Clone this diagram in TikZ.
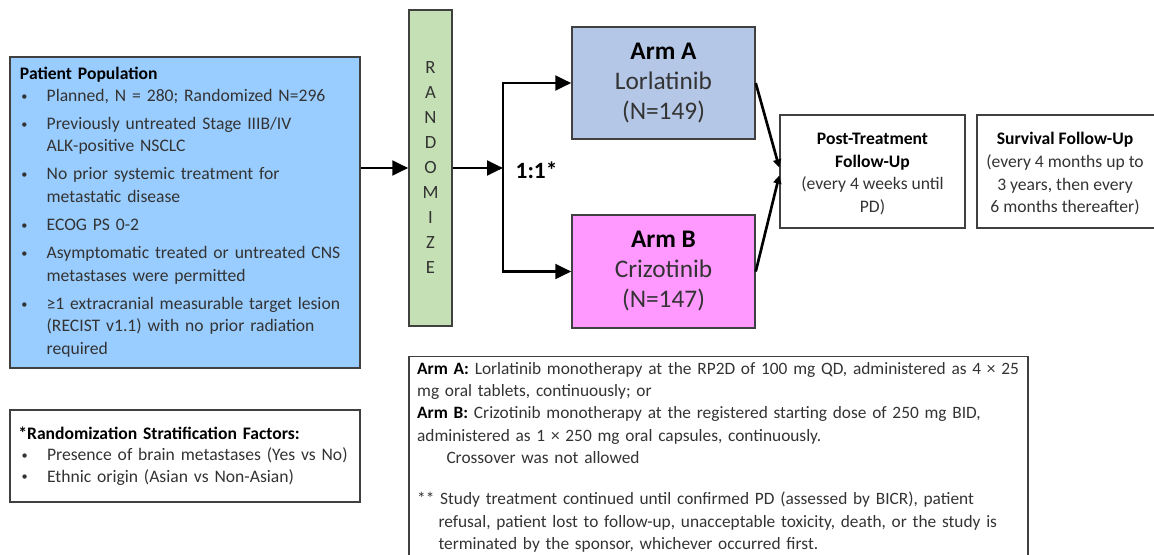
\documentclass[tikz,border=0pt]{standalone}
\usepackage{fontspec}
\setmainfont{Carlito}
\usetikzlibrary{positioning,arrows.meta,calc}
\definecolor{popblue}{HTML}{99CCFF}
\definecolor{randgreen}{HTML}{C5E0B4}
\definecolor{armablue}{HTML}{B4C7E7}
\definecolor{armbpink}{HTML}{FF99FF}
\definecolor{boxline}{HTML}{404040}
\definecolor{bodytext}{HTML}{333333}

\tikzset{
    box/.style={rectangle, draw=boxline, line width=1.1pt, inner sep=0pt, text=bodytext},
    arr/.style={-{Triangle[length=12pt, width=11pt]}, line width=2.2pt},
    thinarr/.style={-{Triangle[length=6pt, width=6pt]}, line width=2pt}
}
\newcommand{\bul}{\makebox[20pt][l]{\hspace*{1pt}\raisebox{0.15ex}{\scalebox{0.7}{\textbullet}}}}
\newcommand{\cont}{\hspace*{20pt}}

\begin{document}
\begin{tikzpicture}[x=0.75pt, y=-0.75pt,
    every node/.style={font=\fontsize{13.2pt}{17pt}\selectfont}
]
    \useasboundingbox (0,0) rectangle (1154,554);
    \clip (0,0) rectangle (1154,554);

    % Patient population on the left
    \node[box, fill=popblue, minimum width=262.5pt, minimum height=233.25pt,
          text width=247.5pt, align=left] (pop) at (185, 212.5) {
        \textcolor{black}{\textbf{Patient Population}}\\[-1pt]
        \bul Planned, N = 280; Randomized N=296\\[4pt]
        \bul Previously untreated Stage IIIB/IV\\
        \cont ALK-positive NSCLC\\[4pt]
        \bul No prior systemic treatment for\\
        \cont metastatic disease\\[4pt]
        \bul ECOG PS 0-2\\[4pt]
        \bul Asymptomatic treated or untreated CNS\\
        \cont metastases were permitted\\[4pt]
        \bul ≥1 extracranial measurable target lesion\\
        \cont (RECIST v1.1) with no prior radiation\\
        \cont required
    };

    % Randomize bar
    \node[box, fill=randgreen, minimum width=32.25pt, minimum height=237pt, align=center,
          font=\fontsize{14pt}{18.75pt}\selectfont] (rand) at (430.5, 168)
        {R\\A\\N\\D\\O\\M\\I\\Z\\E};

    % Treatment arms
    \node[box, fill=armablue, minimum width=137.25pt, minimum height=84pt, align=center,
          font=\fontsize{19pt}{22.5pt}\selectfont] (armA) at (663.5, 83)
        {\textcolor{black}{\textbf{Arm A}}\\Lorlatinib\\(N=149)};
    \node[box, fill=armbpink, minimum width=137.25pt, minimum height=84.75pt, align=center,
          font=\fontsize{19pt}{22.5pt}\selectfont] (armB) at (663.5, 271.5)
        {\textcolor{black}{\textbf{Arm B}}\\Crizotinib\\(N=147)};

    % Follow-up boxes
    \node[box, minimum width=138.75pt, minimum height=84.75pt] (post) at (872.5, 171.5) {};
    \node[align=center, text=bodytext] (posttext) at (872.5, 174)
        {\textcolor{black}{\textbf{Post-Treatment}}\\\textcolor{black}{\textbf{Follow-Up}}\\(every 4 weeks until\\PD)};
    \node[box, minimum width=137.25pt, minimum height=84.75pt] (surv) at (1068.5, 171.5) {};
    \node[align=center, text=bodytext] (survtext) at (1065, 174)
        {\textcolor{black}{\textbf{Survival Follow-Up}}\\(every 4 months up to\\3 years, then every\\6 months thereafter)};

    % Stratification factors
    \node[box, minimum width=262.5pt, minimum height=69pt, text width=250pt, align=left,
          font=\fontsize{13.2pt}{16pt}\selectfont] (strat) at (185, 456) {
        \textcolor{black}{\textbf{*Randomization Stratification Factors:}}\\
        \hspace*{1.5pt}\bul Presence of brain metastases (Yes vs No)\\
        \hspace*{1.5pt}\bul Ethnic origin (Asian vs Non-Asian)
    };

    % Dosing notes (bottom edge runs off the page)
    \node[box, minimum width=464.25pt, text width=452pt, align=left, anchor=north,
          inner ysep=4pt, inner xsep=6pt, font=\fontsize{13pt}{16.8pt}\selectfont] (notes) at (718.5, 356) {
        \textcolor{black}{\textbf{Arm A:}} Lorlatinib monotherapy at the RP2D of 100 mg QD, administered as 4 × 25\\
        mg oral tablets, continuously; or\\
        \textcolor{black}{\textbf{Arm B:}} Crizotinib monotherapy at the registered starting dose of 250 mg BID,\\
        administered as 1 × 250 mg oral capsules, continuously.\\
        \hspace*{22pt}Crossover was not allowed\\[14pt]
        ** Study treatment continued until confirmed PD (assessed by BICR), patient\\
        \hspace*{16pt}refusal, patient lost to follow-up, unacceptable toxicity, death, or the study is\\
        \hspace*{16pt}terminated by the sponsor, whichever occurred first.\\[12pt]
    };

    % Connectors
    \coordinate (split) at (503, 168);
    \draw[arr] (pop.east |- rand.west) -- (rand.west);
    \draw[arr] (rand.east) -- (split);
    \draw[arr] (split) |- (armA.west);
    \draw[arr] (split) |- (armB.west);
    \node[anchor=west, font=\fontsize{17.5pt}{20pt}\bfseries] (ratio) at (511, 170) {1:1*};
    \draw[thinarr] (armA.east) -- ([yshift=3pt]post.west);
    \draw[thinarr] (armB.east) -- ([yshift=-3pt]post.west);
\end{tikzpicture}
\end{document}
